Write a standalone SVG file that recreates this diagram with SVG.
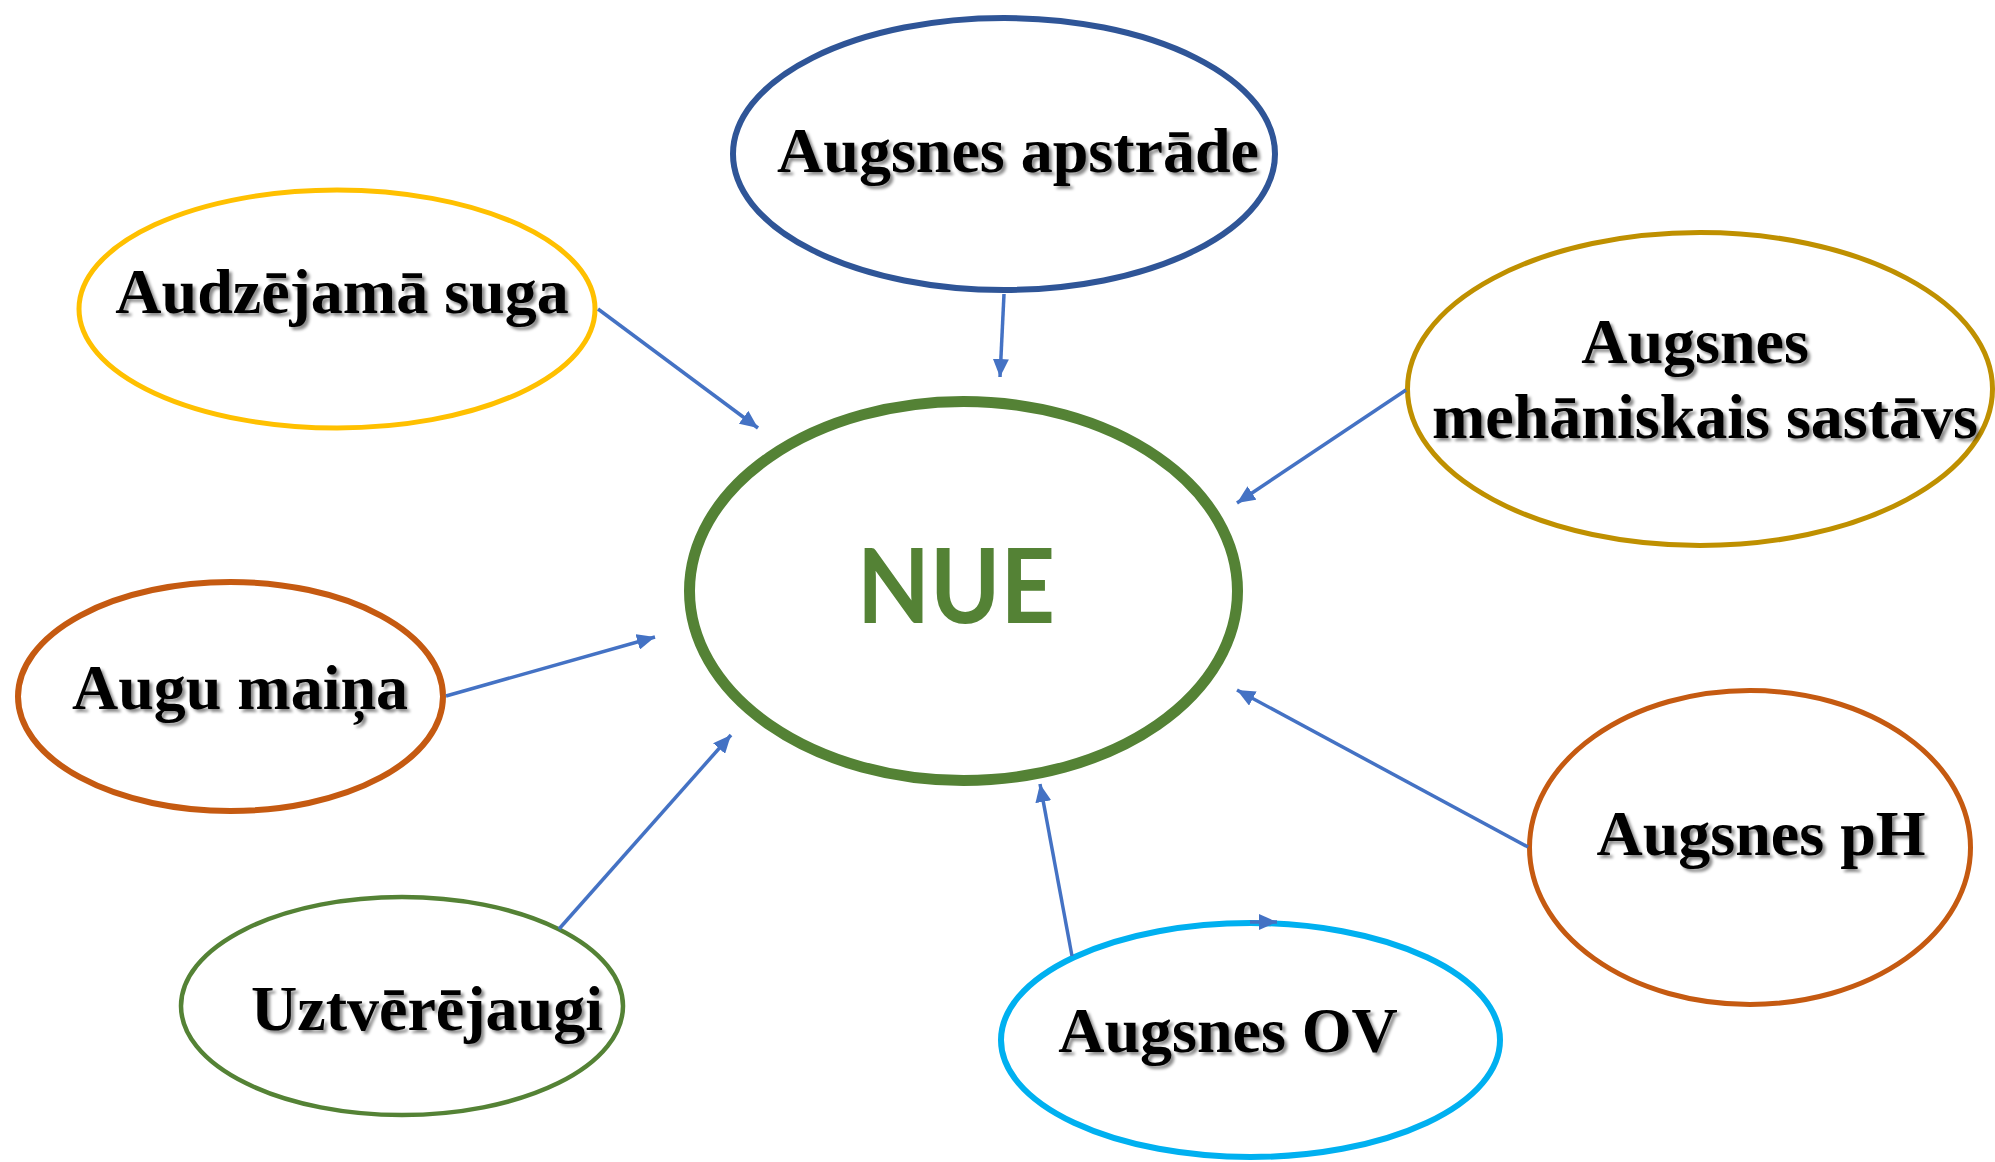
<svg xmlns="http://www.w3.org/2000/svg" width="1995" height="1162" viewBox="0 0 1995 1162">
<defs>
<style>
.node{fill:#fff}
.lbl{font-family:"Liberation Serif","Times New Roman",serif;font-weight:bold;font-size:64px;fill:#000;text-anchor:middle;filter:url(#sh)}
.conn line{stroke:#4472C4;stroke-width:3.5;fill:none;marker-end:url(#ah)}
</style>
<filter id="sh" x="-10%" y="-30%" width="120%" height="160%">
<feDropShadow dx="3" dy="3" stdDeviation="1.8" flood-color="#000" flood-opacity="0.45"/>
</filter>
<marker id="ah" markerUnits="userSpaceOnUse" markerWidth="18" markerHeight="16" refX="18" refY="8" orient="auto">
<path d="M0,0 L18,8 L0,16 z" fill="#4472C4"/>
</marker>
</defs>
<rect width="1995" height="1162" fill="#fff"/>
<g id="node-nue">
<ellipse class="node" cx="963.5" cy="591" rx="274" ry="189.5" stroke="#548235" stroke-width="11"/>
<text x="956" y="623" font-family="Lato,'Open Sans','Noto Sans',sans-serif" font-weight="bold" font-size="103" fill="#548235" text-anchor="middle" textLength="198" lengthAdjust="spacingAndGlyphs">NUE</text>
</g>
<g id="node-apstrade">
<ellipse class="node" cx="1004" cy="154" rx="271" ry="136" stroke="#2F5597" stroke-width="6"/>
<text class="lbl" x="1018" y="172">Augsnes apstrāde</text>
</g>
<g id="node-suga">
<ellipse class="node" cx="337" cy="309" rx="258" ry="119" stroke="#FFC000" stroke-width="5"/>
<text class="lbl" x="342" y="313">Audzējamā suga</text>
</g>
<g id="node-sastavs">
<ellipse class="node" cx="1700" cy="389" rx="292.5" ry="156.5" stroke="#BF9000" stroke-width="5"/>
<text class="lbl" x="1695" y="363">Augsnes</text>
<text class="lbl" x="1705" y="438">mehāniskais sastāvs</text>
</g>
<g id="node-maina">
<ellipse class="node" cx="230.5" cy="696.5" rx="212.5" ry="114.5" stroke="#C55A11" stroke-width="6"/>
<text class="lbl" x="240" y="709">Augu maiņa</text>
</g>
<g id="node-uztverejaugi">
<ellipse class="node" cx="402" cy="1006" rx="221" ry="109" stroke="#548235" stroke-width="4.5"/>
<text class="lbl" x="427" y="1030">Uztvērējaugi</text>
</g>
<g id="node-ov">
<ellipse class="node" cx="1250.5" cy="1040" rx="249.5" ry="117" stroke="#00B0F0" stroke-width="6"/>
<text class="lbl" x="1228" y="1052">Augsnes OV</text>
</g>
<g id="node-ph">
<ellipse class="node" cx="1750" cy="847.5" rx="220.5" ry="157" stroke="#C55A11" stroke-width="5"/>
<text class="lbl" x="1761" y="855">Augsnes pH</text>
</g>
<g id="connectors" class="conn">
<line x1="598" y1="309" x2="758" y2="428"/>
<line x1="1004" y1="294" x2="1000" y2="377"/>
<line x1="1406" y1="390" x2="1237" y2="503"/>
<line x1="446" y1="696" x2="655" y2="637"/>
<line x1="559" y1="929" x2="731" y2="735"/>
<line x1="1072" y1="956" x2="1040" y2="784"/>
<line x1="1528" y1="847" x2="1237" y2="690"/>
<line x1="1250" y1="922" x2="1277" y2="922"/>
</g>
</svg>
